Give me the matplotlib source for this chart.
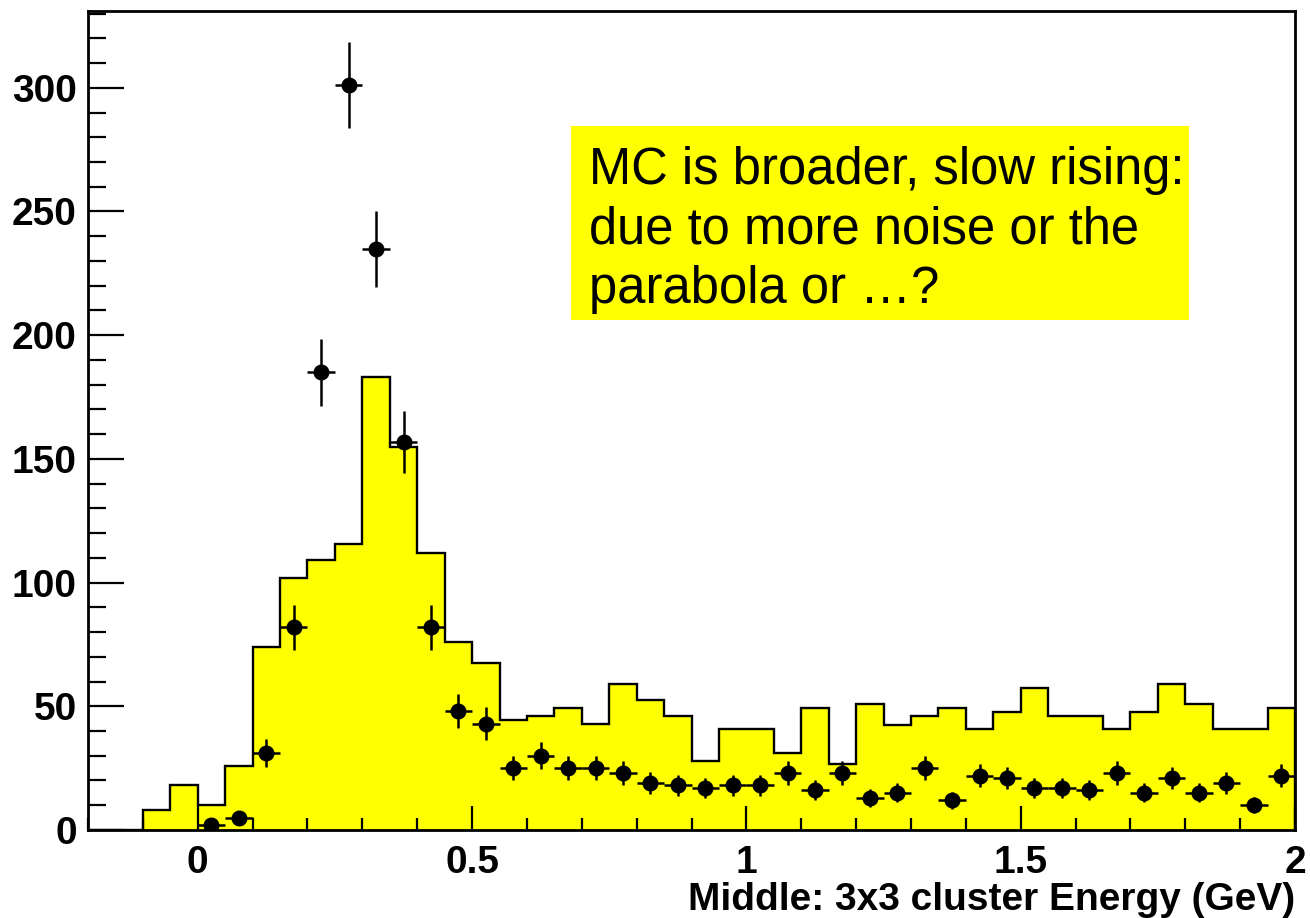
import numpy as np
import matplotlib
matplotlib.use("Agg")
import matplotlib.pyplot as plt
from matplotlib.patches import Rectangle
from matplotlib.ticker import MultipleLocator

plt.rcParams['font.family'] = 'Liberation Sans'

# 44 bins of 50 MeV from -0.2 to 2.0 GeV
edges = np.linspace(-0.2, 2.0, 45)
centers = 0.5 * (edges[:-1] + edges[1:])

# MC (normalised) and data counts per bin
mc = np.array([0, 0, 8, 18, 10, 26, 74, 102, 109, 115.5,
               183, 155, 112, 76, 67.5, 44.5, 46, 49.5, 43, 59,
               52.5, 46, 28, 41, 41, 31, 49.5, 26.5, 51, 42.5,
               46, 49.5, 41, 47.5, 57.5, 46, 46, 41, 47.5, 59,
               51, 41, 41, 49.5])
data = np.array([0, 0, 0, 0, 2, 5, 31, 82, 185, 301,
                 235, 157, 82, 48, 43, 25, 30, 25, 25, 23,
                 19, 18, 17, 18, 18, 23, 16, 23, 13, 15,
                 25, 12, 22, 21, 17, 17, 16, 23, 15, 21,
                 15, 19, 10, 22])

xticks = [0, 0.5, 1, 1.5, 2]
xticklabels = ['0', '0.5', '1', '1.5', '2']
yticks = [0, 50, 100, 150, 200, 250, 300]

note = "MC is broader, slow rising:\ndue to more noise or the\nparabola or \u2026?"

fig = plt.figure(figsize=(13.1, 9.18), dpi=100)
ax = fig.add_axes([0.0672, 0.0959, 0.9214, 0.892])

ax.stairs(mc, edges, fill=True, color='#ffff00', zorder=1)
ax.stairs(mc, edges, baseline=0, color='black', lw=1.7, zorder=2)

sel = data > 0
ax.errorbar(centers[sel], data[sel], yerr=np.sqrt(data[sel]), xerr=0.025,
            fmt='o', color='black', ms=10.5, elinewidth=1.8, capsize=0, zorder=3)

ax.set_xlim(-0.2, 2.0)
ax.set_ylim(0, 331)
ax.set_xticks(xticks)
ax.set_xticklabels(xticklabels)
ax.set_yticks(yticks)
ax.xaxis.set_minor_locator(MultipleLocator(0.1))
ax.yaxis.set_minor_locator(MultipleLocator(10))
ax.tick_params(axis='both', which='both', direction='in', width=1.6,
               labelsize=28)
ax.tick_params(axis='x', which='major', length=17.3, pad=10.5)
ax.tick_params(axis='x', which='minor', length=8.6)
ax.tick_params(axis='y', which='major', length=26, pad=8)
ax.tick_params(axis='y', which='minor', length=13)
for lab in ax.get_xticklabels() + ax.get_yticklabels():
    lab.set_fontweight('bold')
for sp in ax.spines.values():
    sp.set_linewidth(2)

ax.set_xlabel('Middle: 3x3 cluster Energy (GeV)', loc='right', fontsize=28,
              fontweight='bold', labelpad=1)

fig.add_artist(Rectangle((571 / 1310, 1 - 320 / 918), 618 / 1310, 194 / 918,
                         transform=fig.transFigure, facecolor='#ffff00',
                         edgecolor='none', zorder=5))
fig.text(589 / 1310, 1 - 146 / 918, note, ha='left', va='top', fontsize=36.5,
         linespacing=1.28, zorder=6)

fig.savefig('out.png', dpi=100)
